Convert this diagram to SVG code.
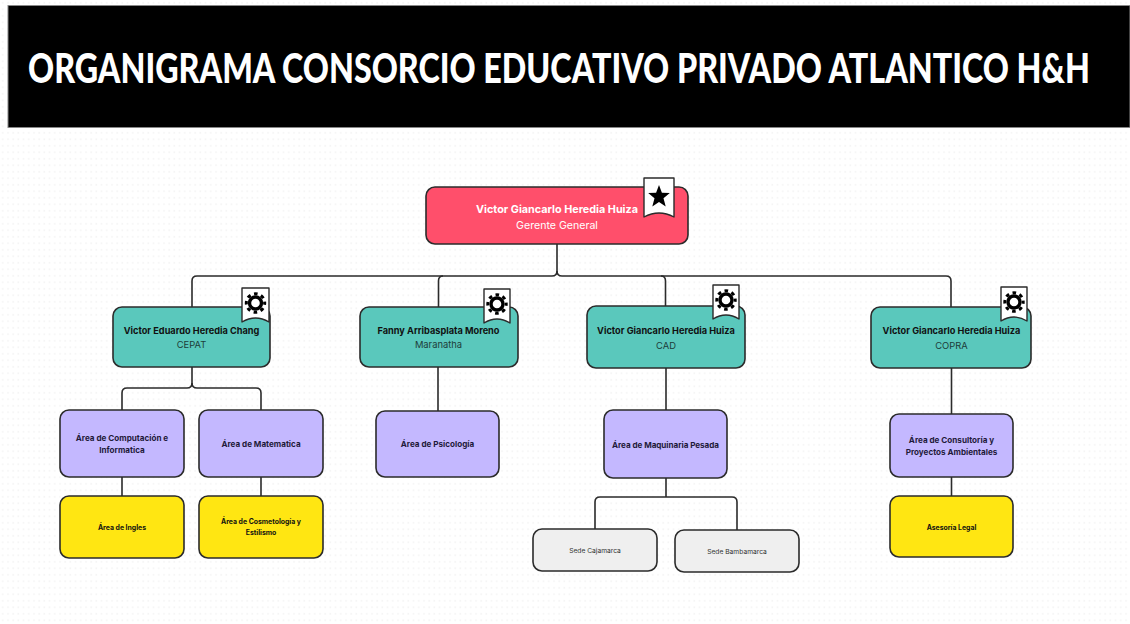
<svg xmlns="http://www.w3.org/2000/svg" width="1130" height="624" viewBox="0 0 1130 624">
<style>
.n{stroke:#2b2b2b;stroke-width:1.6}
.red{fill:#ff4f6b}.teal{fill:#5ac8bc}.pur{fill:#c4b8ff}.yel{fill:#ffe612}.gry{fill:#efefef}
text{font-family:Inter,"Noto Sans",Arial,sans-serif;text-anchor:middle;fill:#111}
.b{font-weight:700;font-size:9.200px}
.s{font-size:9.400px;fill:#1d3d3a}
.a{font-weight:700;font-size:8.100px;fill:#1f1a3a}
.y{font-weight:700;font-size:6.900px;fill:#111}
.g{font-size:6.700px;fill:#333}
#conn path{fill:none;stroke:#2b2b2b;stroke-width:1.6}
.bd{fill:#fff;stroke:#2b2b2b;stroke-width:1.4;stroke-linejoin:round}
</style>
<defs>
<pattern id="dots" width="5.200" height="6.500" patternUnits="userSpaceOnUse"><rect x="2" y="2" width="1.600" height="1.600" fill="#f4f4f4"/></pattern>
<g id="gear"><circle r="6" fill="none" stroke="#000" stroke-width="3.4"/><circle r="9.2" fill="none" stroke="#000" stroke-width="3" stroke-dasharray="3.6 3.63" stroke-dashoffset="1.8"/></g>
</defs>
<rect width="1130" height="624" fill="#fff"/>
<rect width="1130" height="624" fill="url(#dots)"/>
<g id="title"><rect x="8" y="5.500" width="1122" height="122" fill="#000" stroke="#888" stroke-width="1"/>
<text transform="translate(28 83) scale(1 1.260)" x="0" y="0" textLength="1062" lengthAdjust="spacingAndGlyphs" style="font-family:Lato,'Open Sans',sans-serif;font-weight:900;font-size:33.300px;fill:#fff;text-anchor:start">ORGANIGRAMA CONSORCIO EDUCATIVO PRIVADO ATLANTICO H&amp;H</text></g>
<g id="conn">
<path d="M557 244V271Q557 276 552 276H197Q192 276 192 281V307"/>
<path d="M557 271Q557 276 562 276H946Q951 276 951 281V307"/>
<path d="M443 276Q438.500 276 438.500 281V307"/>
<path d="M661 276Q665.500 276 665.500 281V306"/>
<path d="M192 367V383Q192 388 187 388H127Q122 388 122 393V410"/>
<path d="M192 383Q192 388 197 388H256Q261 388 261 393V410"/>
<path d="M122 477V496M261 477V496M438 367V411M666 368V410M951.500 368V414M951.500 477V496"/>
<path d="M666 478V497M600 497H732M600 497Q595 497 595 502V529M732 497Q737 497 737 502V530"/>
</g>
<g id="root"><rect class="n red" x="426" y="187" width="262" height="57" rx="9"/>
<path class="bd" d="M644 178H674V217Q659 209 644 217Z"/>
<path d="M659 185L661.900 192.800L669.800 193.100L663.500 198.200L665.700 206.500L659 202L652.300 206.500L654.500 198.200L648.200 193.100L656.100 192.800Z" fill="#000"/>
<text x="557" y="212.500" class="b" style="fill:#fff;font-size:10.800px">Victor Giancarlo Heredia Huiza</text>
<text x="557" y="229" style="fill:#fff;font-size:10.600px">Gerente General</text></g>
<g id="cepat"><rect class="n teal" x="113" y="307" width="157" height="60" rx="9"/>
<path class="bd" d="M242 288H269V322Q255.500 314 242 322Z"/><use href="#gear" x="255.500" y="303"/>
<text x="191.500" y="334" class="b">Victor Eduardo Heredia Chang</text><text x="191.500" y="348" class="s">CEPAT</text></g>
<g id="maranatha"><rect class="n teal" x="360" y="307" width="158" height="60" rx="9"/>
<path class="bd" d="M484 289H510V323Q497 315 484 323Z"/><use href="#gear" x="497" y="304"/>
<text x="438.500" y="334" class="b">Fanny Arribasplata Moreno</text><text x="438.500" y="348" class="s">Maranatha</text></g>
<g id="cad"><rect class="n teal" x="587" y="306" width="158" height="62" rx="9"/>
<path class="bd" d="M713 285H739V319Q726 311 713 319Z"/><use href="#gear" x="726" y="300"/>
<text x="666" y="334" class="b">Victor Giancarlo Heredia Huiza</text><text x="666" y="349" class="s">CAD</text></g>
<g id="copra"><rect class="n teal" x="871" y="307" width="160" height="61" rx="9"/>
<path class="bd" d="M1001 287H1027V321Q1014 313 1001 321Z"/><use href="#gear" x="1014" y="302"/>
<text x="951.500" y="334" class="b">Victor Giancarlo Heredia Huiza</text><text x="951.500" y="349" class="s">COPRA</text></g>
<g id="computacion"><rect class="n pur" x="60" y="410" width="124" height="67" rx="9"/>
<text x="122" y="441" class="a">Área de Computación e</text><text x="122" y="453" class="a">Informatica</text></g>
<g id="matematica"><rect class="n pur" x="199" y="410" width="124" height="67" rx="9"/>
<text x="261" y="447" class="a">Área de Matematica</text></g>
<g id="psicologia"><rect class="n pur" x="376" y="411" width="123" height="66" rx="9"/>
<text x="437.500" y="447" class="a">Área de Psicología</text></g>
<g id="maquinaria"><rect class="n pur" x="604" y="410" width="123" height="68" rx="9"/>
<text x="665.500" y="448" class="a" textLength="107">Área de Maquinaria Pesada</text></g>
<g id="consultoria"><rect class="n pur" x="890" y="414" width="123" height="63" rx="9"/>
<text x="951.500" y="443" class="a">Área de Consultoría y</text><text x="951.500" y="455" class="a">Proyectos Ambientales</text></g>
<g id="ingles"><rect class="n yel" x="60" y="496" width="124" height="62" rx="9"/>
<text x="122" y="530" class="y">Área de Ingles</text></g>
<g id="cosmetologia"><rect class="n yel" x="199" y="496" width="124" height="62" rx="9"/>
<text x="261" y="524" class="y">Área de Cosmetología y</text><text x="261" y="535" class="y">Estilismo</text></g>
<g id="legal"><rect class="n yel" x="890" y="496" width="123" height="61" rx="9"/>
<text x="951.500" y="530" class="y">Asesoría Legal</text></g>
<g id="cajamarca"><rect class="n gry" x="533" y="529" width="124" height="42" rx="9"/>
<text x="595" y="553" class="g">Sede Cajamarca</text></g>
<g id="bambamarca"><rect class="n gry" x="675" y="530" width="124" height="42" rx="9"/>
<text x="737" y="554" class="g">Sede Bambamarca</text></g>
</svg>
